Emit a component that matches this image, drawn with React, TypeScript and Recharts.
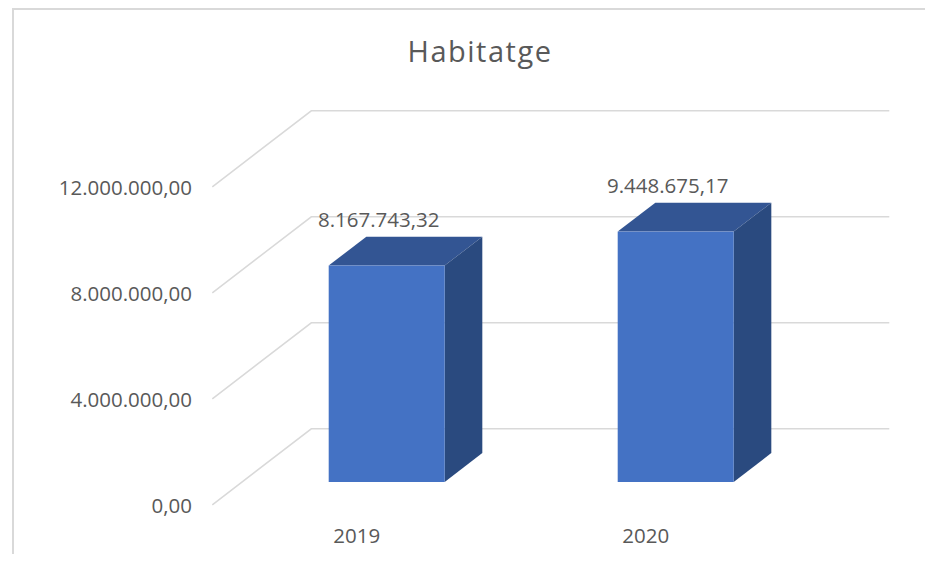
import React from 'react';
import { BarChart, Bar, XAxis, YAxis, CartesianGrid, LabelList } from 'recharts';

// ---- data ----
const title = 'Habitatge';
const categories = ['2019', '2020'];
const values = [8167743.32, 9448675.17];
const yTicks = [0, 4000000, 8000000, 12000000];

const data = categories.map((c, i) => ({ year: c, value: values[i] }));

// ---- layout / style ----
const W = 925;
const H = 546;
const MARGIN = { top: 156, right: 113, bottom: 42, left: 174 };
const DX = 99; // full-depth oblique offset x
const DY = 76; // full-depth oblique offset y
const BAR_Z0 = 0.3; // bar front plane (plot plane)
const BAR_Z1 = 0.68; // bar back plane
const FONT = '"Open Sans", "Noto Sans", sans-serif';
const TEXT = '#595959';
const GRID = '#d9d9d9';

const fmt = (v: number) => {
  const [i, d] = v.toFixed(2).split('.');
  return i.replace(/\B(?=(\d{3})+(?!\d))/g, '.') + ',' + d;
};

const gridLine = (p: any) => {
  const { x1, x2, y1 } = p;
  const fx = x1 - BAR_Z0 * DX;
  const fy = y1 + BAR_Z0 * DY;
  const bx = x1 + (1 - BAR_Z0) * DX;
  const by = y1 - (1 - BAR_Z0) * DY;
  const bx2 = x2 + (1 - BAR_Z0) * DX;
  return (
    <polyline
      key={p.key ?? `grid-${p.index}`}
      points={`${fx},${fy} ${bx},${by} ${bx2},${by}`}
      fill="none"
      stroke={GRID}
      strokeWidth={1.5}
    />
  );
};

const Box3D = (p: any) => {
  const { x, y, width, height } = p;
  const dx = (BAR_Z1 - BAR_Z0) * DX;
  const dy = (BAR_Z1 - BAR_Z0) * DY;
  const r = x + width;
  const b = y + height;
  return (
    <g>
      <polygon
        points={`${x},${y} ${x + dx},${y - dy} ${r + dx},${y - dy} ${r},${y}`}
        fill="#335593"
      />
      <polygon
        points={`${r},${y} ${r + dx},${y - dy} ${r + dx},${b - dy} ${r},${b}`}
        fill="#2a4a7f"
      />
      <rect x={x} y={y} width={width} height={height} fill="#4472c4" />
    </g>
  );
};

const YTick = (p: any) => {
  const { x, y, payload } = p;
  return (
    <text
      x={x - 50}
      y={y + BAR_Z0 * DY}
      textAnchor="end"
      dominantBaseline="central"
      fontFamily={FONT}
      fontSize={20.5}
      fill={TEXT}
    >
      {fmt(payload.value)}
    </text>
  );
};

const XTick = (p: any) => {
  const { x, y, payload } = p;
  return (
    <text
      x={x - BAR_Z0 * DX}
      y={y + 53}
      textAnchor="middle"
      dominantBaseline="central"
      fontFamily={FONT}
      fontSize={20.5}
      fill={TEXT}
    >
      {payload.value}
    </text>
  );
};

const ValueLabel = (p: any) => {
  const { x, y, width, value } = p;
  return (
    <text
      x={x + width / 2 - 8}
      y={y - 47}
      textAnchor="middle"
      dominantBaseline="central"
      fontFamily={FONT}
      fontSize={20.5}
      fill={TEXT}
    >
      {fmt(Number(value))}
    </text>
  );
};

export default function App() {
  return (
    <div style={{ position: 'relative', width: W, height: H, background: '#fff' }}>
      <div
        style={{
          position: 'absolute',
          left: 4,
          top: 0,
          right: 0,
          bottom: -8,
          borderLeft: `2px solid ${GRID}`,
          borderTop: `2px solid ${GRID}`,
        }}
      />
      <svg
        width={W}
        height={100}
        style={{ position: 'absolute', left: 0, top: 0 }}
      >
        <text
          x={472}
          y={54}
          textAnchor="middle"
          fontFamily={FONT}
          fontSize={29}
          letterSpacing={1.5}
          fill={TEXT}
        >
          {title}
        </text>
      </svg>
      <div style={{ position: 'absolute', left: 0, top: 0 }}>
        <BarChart width={W} height={H} data={data} margin={MARGIN} barCategoryGap="30%">
          <CartesianGrid horizontal={gridLine} vertical={false} />
          <XAxis
            dataKey="year"
            axisLine={false}
            tickLine={false}
            tickSize={0}
            tickMargin={0}
            tick={<XTick />}
            interval={0}
          />
          <YAxis
            domain={[0, 12000000]}
            ticks={yTicks}
            axisLine={false}
            tickLine={false}
            tickSize={0}
            tickMargin={0}
            tick={<YTick />}
            interval={0}
          />
          <Bar dataKey="value" shape={<Box3D />} isAnimationActive={false}>
            <LabelList dataKey="value" content={<ValueLabel />} />
          </Bar>
        </BarChart>
      </div>
    </div>
  );
}
